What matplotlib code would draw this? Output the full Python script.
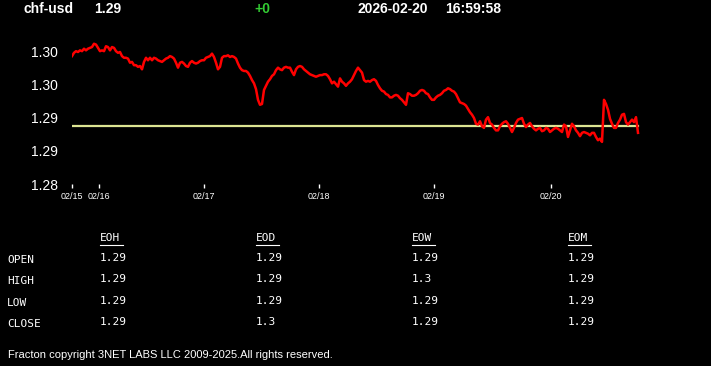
import matplotlib
matplotlib.use('Agg')
import matplotlib.pyplot as plt
from matplotlib.lines import Line2D
import numpy as np

# chf-usd readings, evenly spaced samples from 02/15 evening to 02/20
prices = [
    1.3000, 1.3004, 1.3006, 1.3005, 1.3007, 1.3006, 1.3009, 1.3007, 1.3009, 1.3010,
    1.3011, 1.3015, 1.3014, 1.3010, 1.3006, 1.3007, 1.3006, 1.3012, 1.3011, 1.3007,
    1.3011, 1.3010, 1.3006, 1.3004, 1.3005,
    1.3000, 1.2998, 1.2998, 1.2997, 1.2992, 1.2993, 1.2989, 1.2989, 1.2987, 1.2988,
    1.2984, 1.2993, 1.2998, 1.2995, 1.2998, 1.2995, 1.2998, 1.2997, 1.2995, 1.2994,
    1.2993, 1.2995, 1.2997, 1.2998, 1.3000,
    1.2999, 1.2997, 1.2992, 1.2986, 1.2992, 1.2993, 1.2991, 1.2988, 1.2987, 1.2992,
    1.2994, 1.2992, 1.2991, 1.2992, 1.2994, 1.2995, 1.2995, 1.2998, 1.2999, 1.3000,
    1.3003, 1.2999, 1.2992, 1.2984, 1.2987,
    1.2998, 1.3000, 1.3000, 1.3001, 1.2999, 1.3000, 1.2999, 1.2997, 1.2991, 1.2986,
    1.2983, 1.2982, 1.2982, 1.2980, 1.2976, 1.2971, 1.2967, 1.2960, 1.2947, 1.2941,
    1.2942, 1.2959, 1.2964, 1.2969, 1.2972,
    1.2976, 1.2978, 1.2983, 1.2986, 1.2984, 1.2983, 1.2986, 1.2987, 1.2986, 1.2986,
    1.2981, 1.2977, 1.2984, 1.2987, 1.2988, 1.2987, 1.2984, 1.2982, 1.2980, 1.2978,
    1.2977, 1.2976, 1.2975, 1.2976, 1.2977,
    1.2977, 1.2978, 1.2978, 1.2976, 1.2972, 1.2967, 1.2969, 1.2966, 1.2963, 1.2973,
    1.2969, 1.2967, 1.2964, 1.2967, 1.2969, 1.2972, 1.2977, 1.2982, 1.2986, 1.2983,
    1.2980, 1.2971, 1.2969, 1.2970, 1.2969,
    1.2971, 1.2972, 1.2970, 1.2965, 1.2961, 1.2958, 1.2957, 1.2954, 1.2953, 1.2950,
    1.2950, 1.2952, 1.2953, 1.2952, 1.2949, 1.2947, 1.2944, 1.2941, 1.2955, 1.2954,
    1.2952, 1.2952, 1.2953, 1.2955, 1.2958,
    1.2959, 1.2958, 1.2955, 1.2954, 1.2950, 1.2947, 1.2947, 1.2950, 1.2952, 1.2953,
    1.2955, 1.2958, 1.2959, 1.2961, 1.2960, 1.2958, 1.2957, 1.2954, 1.2949, 1.2944,
    1.2943, 1.2942, 1.2940, 1.2936, 1.2932,
    1.2929, 1.2925, 1.2918, 1.2917, 1.2921, 1.2915, 1.2913, 1.2923, 1.2926, 1.2919,
    1.2917, 1.2913, 1.2910, 1.2910, 1.2915, 1.2918, 1.2920, 1.2921, 1.2918, 1.2913,
    1.2908, 1.2913, 1.2919, 1.2923, 1.2924,
    1.2925, 1.2918, 1.2914, 1.2917, 1.2919, 1.2915, 1.2912, 1.2910, 1.2912, 1.2913,
    1.2909, 1.2910, 1.2913, 1.2912, 1.2908, 1.2910, 1.2912, 1.2913, 1.2912, 1.2910,
    1.2908, 1.2917, 1.2915, 1.2902, 1.2910,
    1.2918, 1.2915, 1.2910, 1.2907, 1.2903, 1.2907, 1.2908, 1.2907, 1.2906, 1.2904,
    1.2907, 1.2907, 1.2902, 1.2898, 1.2900, 1.2896, 1.2947, 1.2942, 1.2935, 1.2924,
    1.2918, 1.2913, 1.2913, 1.2919, 1.2923,
    1.2929, 1.2930, 1.2920, 1.2917, 1.2920, 1.2923, 1.2920, 1.2926, 1.2907,
]
ref_price = 1.2915

day_labels = ['02/15', '02/16', '02/17', '02/18', '02/19', '02/20']
day_pos = [0, 13.5, 66, 123.5, 181, 239.5]

ytick_vals = [1.3005, 1.2965, 1.2925, 1.2885, 1.2845]
ytick_labels = ['1.30', '1.30', '1.29', '1.29', '1.28']

symbol = 'chf-usd'
last = '1.29'
change = '+0'
date_str = '2026-02-20'
time_str = '16:59:58'

cols = ['EOH', 'EOD', 'EOW', 'EOM']
rows = ['OPEN', 'HIGH', 'LOW', 'CLOSE']
table = [
    ['1.29', '1.29', '1.29', '1.29'],
    ['1.29', '1.29', '1.3', '1.29'],
    ['1.29', '1.29', '1.29', '1.29'],
    ['1.29', '1.3', '1.29', '1.29'],
]

W, H = 711, 366
fig = plt.figure(figsize=(W / 100, H / 100), dpi=100, facecolor='black')

# plot area
ax = fig.add_axes([72 / W, (H - 184) / H, 568 / W, 149 / H], facecolor='black')
x = np.arange(len(prices))
ax.plot(x, prices, color='#ff0000', lw=1.8, zorder=3)
ax.plot([0, len(prices) - 1], [ref_price, ref_price], color='#dde593', lw=1.6, zorder=2)

ax.set_xlim(0, len(prices))
ax.set_ylim(1.2845, 1.30256)
for s in ax.spines.values():
    s.set_visible(False)

ax.set_xticks(day_pos)
ax.set_xticklabels(day_labels, fontsize=6.5, color='white', family='Liberation Sans')
ax.set_yticks(ytick_vals)
ax.set_yticklabels(ytick_labels, fontsize=10, color='white', family='Liberation Sans')
ax.tick_params(axis='x', direction='out', length=3, width=1, color='white', pad=3)
ax.tick_params(axis='y', length=0, pad=10)

# header
hdr = dict(color='white', fontsize=10, fontweight='bold', family='Liberation Sans', va='center')
fig.text(24 / W, 1 - 9 / H, symbol, **hdr)
fig.text(94 / W, 1 - 9 / H, last, **hdr)
fig.text(254 / W, 1 - 9 / H, change, **{**hdr, 'color': '#33cc33'})
fig.text(358 / W, 1 - 9 / H, date_str, **hdr)
fig.text(445 / W, 1 - 9 / H, time_str, **hdr)

# summary table
mono = dict(color='white', fontsize=8, family='DejaVu Sans Mono', va='center')
col_x = [100, 256, 412, 568]
for cx, name in zip(col_x, cols):
    fig.text(cx / W, 1 - 238 / H, name, **mono)
    fig.add_artist(Line2D([cx / W, (cx + 23) / W], [1 - 245 / H, 1 - 245 / H],
                          color='white', lw=0.8))
row_y = [260, 281, 303, 324]
for ry, name, vals in zip(row_y, rows, table):
    fig.text(7 / W, 1 - ry / H, name, **mono)
    for cx, v in zip(col_x, vals):
        fig.text(cx / W, 1 - (ry - 2) / H, v, **mono)

fig.text(8 / W, 1 - 355 / H, 'Fracton copyright 3NET LABS LLC 2009-2025.All rights reserved.',
         color='white', fontsize=8, family='Liberation Sans', va='center')

fig.savefig('out.png', dpi=100, facecolor='black')
